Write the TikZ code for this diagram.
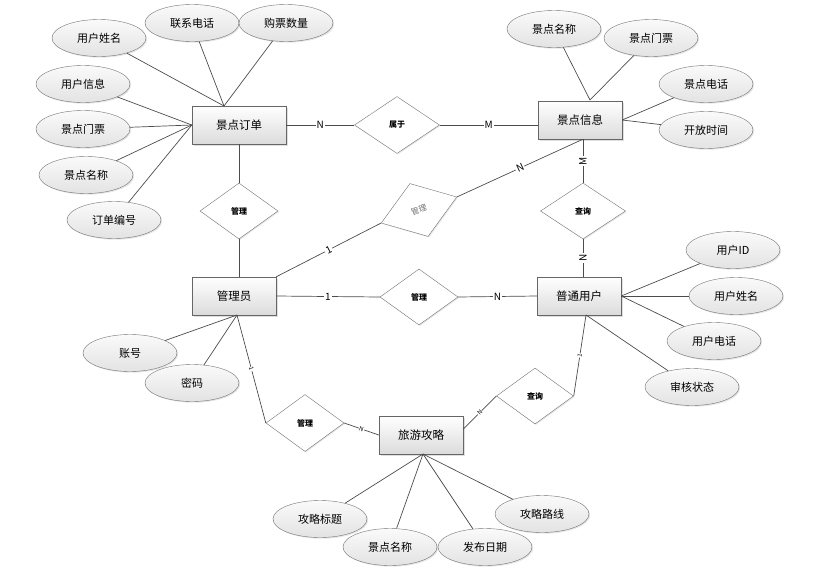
\documentclass[tikz,border=0pt]{standalone}
\usepackage{fontspec}
\setmainfont{Noto Sans CJK SC}
\usetikzlibrary{shapes.geometric,shadows}

\tikzset{
  entity/.style={draw=black!60, top color=white, bottom color=black!14, minimum width=84pt, minimum height=38pt, inner sep=0pt,
    drop shadow={shadow xshift=1.5pt, shadow yshift=-1.5pt, opacity=0.25}, font=\fontsize{11.5}{12}\selectfont},
  attr/.style={ellipse, draw=black!55, top color=black!2, bottom color=black!11, minimum width=94pt, minimum height=37pt, inner sep=0pt,
    drop shadow={shadow xshift=1.2pt, shadow yshift=-1.2pt, opacity=0.2}, font=\fontsize{11}{12}\selectfont},
  rel/.style={diamond, draw=black!55, fill=white, minimum width=80pt, minimum height=56pt, inner sep=0pt,
    drop shadow={shadow xshift=1pt, shadow yshift=-1pt, opacity=0.2}, font=\fontsize{8}{9}\selectfont\bfseries},
  card/.style={fill=white, inner sep=1pt, font=\fontsize{10}{10}\selectfont},
  tinycard/.style={fill=white, inner sep=0.5pt, font=\fontsize{6}{6}\selectfont},
  link/.style={draw=black!70, line width=0.7pt},
}

\begin{document}
\begin{tikzpicture}[x=1pt, y=-1pt]
    \useasboundingbox (0,0) rectangle (822,573);

    % Entities
    \node[entity, minimum width=94pt] (order) at (239,125) {景点订单};
    \node[entity] (info) at (580,120) {景点信息};
    \node[entity] (admin) at (234,296) {管理员};
    \node[entity] (user) at (579,296) {普通用户};
    \node[entity] (guide) at (421,435) {旅游攻略};

    % Relations
    \node[rel, minimum width=85pt, minimum height=57pt] (belong) at (397,125) {属于};
    \node[rel, minimum width=78pt] (manageA) at (239,211) {管理};
    \node[rel, rotate=19, text=black!55, font=\fontsize{8}{9}\selectfont] (manageB) at (419,210) {管理};
    \node[rel, minimum width=85pt] (queryA) at (583,211) {查询};
    \node[rel, minimum width=78pt] (manageC) at (419,297) {管理};
    \node[rel, minimum width=78pt, minimum height=57pt] (manageD) at (305,423) {管理};
    \node[rel, minimum width=77pt] (queryB) at (535,396) {查询};

    % Meeting points of the attribute lines
    \coordinate (orderTop) at (224,106);
    \coordinate (infoTop) at (590,100);
    \coordinate (adminBot) at (237,315);
    \coordinate (userBot) at (586,315);
    \coordinate (guideBot) at (423,454);

    % Attributes of 景点订单
    \node[attr] (oName) at (99,38) {用户姓名};
    \node[attr] (oPhone) at (192,23) {联系电话};
    \node[attr] (oCount) at (286,23) {购票数量};
    \node[attr] (oUser) at (83,84) {用户信息};
    \node[attr] (oTicket) at (83,129) {景点门票};
    \node[attr] (oSpot) at (86,175) {景点名称};
    \node[attr] (oId) at (114,220) {订单编号};
    \foreach \a in {oName,oPhone,oCount} \draw[link] (\a) -- (orderTop);
    \foreach \a in {oUser,oTicket,oSpot,oId} \draw[link] (\a) -- (order.west);

    % Attributes of 景点信息
    \node[attr] (iName) at (554,29) {景点名称};
    \node[attr] (iTicket) at (651,38) {景点门票};
    \node[attr] (iPhone) at (706,84) {景点电话};
    \node[attr] (iTime) at (706,130) {开放时间};
    \foreach \a in {iName,iTicket} \draw[link] (\a) -- (infoTop);
    \foreach \a in {iPhone,iTime} \draw[link] (\a) -- (info.east);

    % Attributes of 普通用户
    \node[attr] (uId) at (733,250) {用户ID};
    \node[attr] (uName) at (736,296) {用户姓名};
    \node[attr] (uPhone) at (714,341) {用户电话};
    \node[attr] (uState) at (692,387) {审核状态};
    \foreach \a in {uId,uName,uPhone} \draw[link] (\a) -- (user.east);
    \draw[link] (uState) -- (userBot);

    % Attributes of 管理员
    \node[attr] (aAccount) at (130,353) {账号};
    \node[attr] (aPass) at (192,383) {密码};
    \foreach \a in {aAccount,aPass} \draw[link] (\a) -- (adminBot);

    % Attributes of 旅游攻略
    \node[attr] (gTitle) at (320,519) {攻略标题};
    \node[attr] (gSpot) at (390,547) {景点名称};
    \node[attr] (gDate) at (485,547) {发布日期};
    \node[attr] (gRoute) at (542,514) {攻略路线};
    \foreach \a in {gTitle,gSpot,gDate,gRoute} \draw[link] (\a) -- (guideBot);

    % Connectors and their labels
    \draw[link] (order.east) -- node[card] {N} (belong.west);
    \draw[link] (belong.east) -- node[card] {M} (belong.east -| info.west);
    \draw[link] (order.south) -- (manageA.north);
    \draw[link] (manageA.south) -- (manageA.south |- admin.north);
    \draw[link] (admin.north east) -- node[card, sloped] {1} (manageB.west);
    \draw[link] (manageB.east) -- node[card, sloped] {N} (queryA.north |- info.south);
    \draw[link] (queryA.north |- info.south) -- node[card, rotate=90] {M} (queryA.north);
    \draw[link] (queryA.south) -- node[card, rotate=90] {N} (queryA.south |- user.north);
    \draw[link] (admin.east) -- node[card] {1} (manageC.west);
    \draw[link] (manageC.east) -- node[card] {N} (user.west);
    \draw[link] (adminBot) -- node[tinycard, sloped] {1} (manageD.west);
    \draw[link] (manageD.east) -- node[tinycard, sloped] {N} (guide.west);
    \draw[link] (guide.8) -- node[tinycard, sloped] {N} (queryB.west);
    \draw[link] (queryB.east) -- node[tinycard, sloped] {1} (userBot);
\end{tikzpicture}
\end{document}
